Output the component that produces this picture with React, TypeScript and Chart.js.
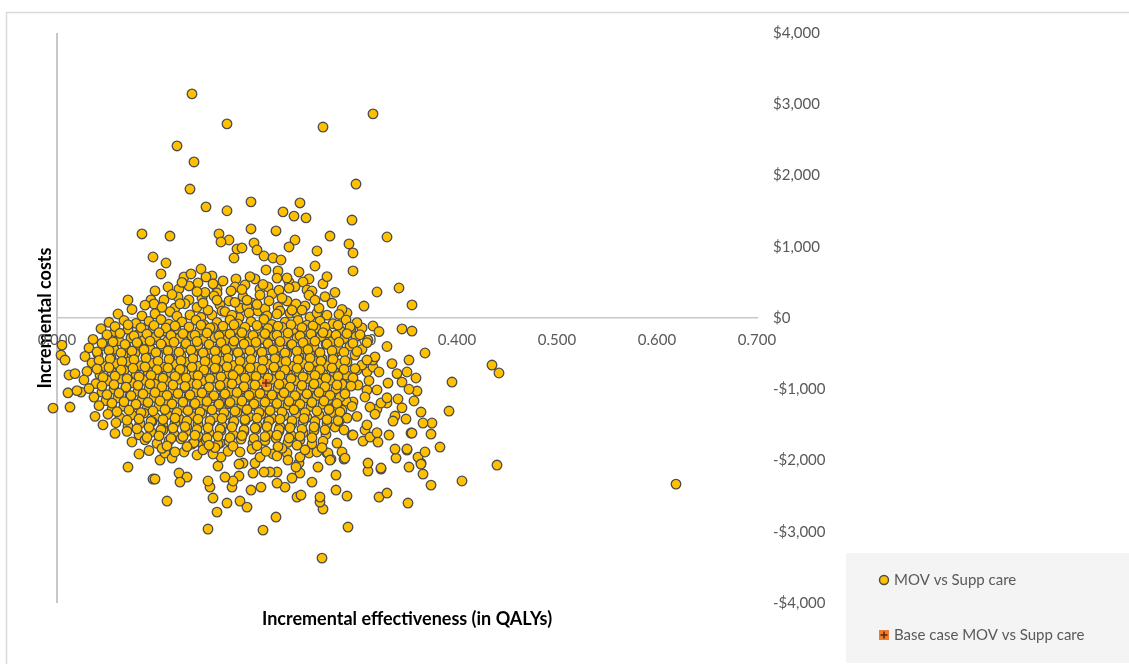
import { useEffect, useRef } from 'react';
import { Chart, registerables } from 'chart.js';

Chart.register(...registerables);

const seriesNames = ['MOV vs Supp care', 'Base case MOV vs Supp care'];
const xAxisTitle = 'Incremental effectiveness (in QALYs)';
const yAxisTitle = 'Incremental costs';
const xTickValues = [0, 0.1, 0.2, 0.3, 0.4, 0.5, 0.6, 0.7];
const yTickValues = [-4000, -3000, -2000, -1000, 0, 1000, 2000, 3000, 4000];

// Base case point (QALYs, $)
const baseCase: [number, number][] = [[0.209, -912]];

// PSA iterations: scattered points above the axis
const psaUpper: [number, number][] = [
  [0.135, 3145], [0.170, 2725], [0.266, 2680], [0.316, 2865], [0.120, 2415], [0.137, 2190],
  [0.299, 1880], [0.133, 1810], [0.194, 1630], [0.243, 1615], [0.149, 1560], [0.170, 1505],
  [0.226, 1490], [0.237, 1430], [0.249, 1405], [0.295, 1375], [0.085, 1180], [0.113, 1150],
  [0.162, 1180], [0.172, 1095], [0.194, 1250], [0.219, 1222], [0.273, 1150], [0.164, 1067],
  [0.330, 1137], [0.238, 1095], [0.232, 997], [0.197, 1053], [0.200, 955], [0.180, 969],
  [0.185, 983], [0.177, 842], [0.207, 870], [0.216, 842], [0.224, 814], [0.260, 941],
  [0.292, 1039], [0.296, 913], [0.296, 660], [0.258, 730], [0.242, 646], [0.221, 660],
  [0.209, 674], [0.096, 856], [0.109, 772], [0.104, 618], [0.127, 576], [0.134, 618],
  [0.144, 688], [0.155, 590], [0.149, 576], [0.141, 491], [0.198, 548], [0.188, 463],
  [0.179, 548], [0.178, 435], [0.111, 435], [0.122, 407], [0.160, 407], [0.160, 351],
  [0.203, 407], [0.211, 435], [0.232, 505], [0.230, 562], [0.252, 548], [0.246, 505],
  [0.250, 393], [0.255, 379], [0.320, 365], [0.342, 421], [0.355, 183], [0.307, 168],
  [0.290, 70], [0.071, 253], [0.094, 253], [0.097, 197], [0.107, 253], [0.118, 140],
  [0.121, 295], [0.132, 253], [0.145, 281], [0.157, 309], [0.172, 239], [0.183, 140],
  [0.195, 211], [0.203, 323], [0.215, 337], [0.221, 154], [0.230, 239], [0.239, 197],
  [0.223, 98], [0.061, 56], [0.133, 42], [0.144, 10], [0.155, 42], [0.163, 183],
  [0.165, 98], [0.182, 5], [0.201, 98], [0.220, 56], [0.233, 70], [0.240, 56],
  [0.253, 14], [0.260, 70], [0.075, 120], [0.088, 180], [0.113, 90], [0.128, 200],
  [0.140, 150], [0.151, 110], [0.168, 90], [0.178, 220], [0.190, 160], [0.208, 130],
  [0.212, 240], [0.235, 110], [0.248, 170], [0.262, 140], [0.275, 210], [0.285, 120],
  [0.098, 380], [0.115, 330], [0.132, 450], [0.148, 360], [0.166, 520], [0.174, 380],
  [0.186, 300], [0.193, 580], [0.206, 470], [0.222, 390], [0.238, 440], [0.252, 320],
  [0.266, 480], [0.278, 360],
  [0.085, 30], [0.098, 60], [0.120, 25], [0.175, 40], [0.192, 70], [0.210, 30],
  [0.245, 110], [0.270, 40], [0.282, 50], [0.105, 150], [0.123, 200], [0.146, 210],
  [0.160, 250], [0.190, 250], [0.200, 190], [0.225, 280], [0.258, 250], [0.268, 300],
  [0.140, 370], [0.185, 400], [0.232, 420], [0.270, 580], [0.220, 560], [0.156, 480],
  [0.125, 500],
];

// PSA iterations: scattered points on the lower / right / left edge of the cloud
const psaOuter: [number, number][] = [
  [0.071, -2092], [0.082, -1909], [0.096, -2260], [0.098, -2260], [0.110, -2569], [0.122, -2176],
  [0.130, -2232], [0.123, -2303], [0.103, -1994], [0.108, -1895], [0.115, -1966], [0.151, -2962],
  [0.160, -2724], [0.156, -2527], [0.170, -2597], [0.183, -2569], [0.190, -2654], [0.206, -2977],
  [0.219, -2794], [0.240, -2513], [0.244, -2485], [0.265, -3370], [0.291, -2934], [0.290, -2499],
  [0.279, -2415], [0.279, -2204], [0.266, -2682], [0.263, -2583], [0.263, -2513], [0.322, -2513],
  [0.330, -2457], [0.351, -2597], [0.374, -2345], [0.366, -2190], [0.352, -2092], [0.324, -2120],
  [0.311, -2148], [0.311, -2036], [0.339, -1966], [0.350, -1853], [0.364, -2036], [0.361, -1952],
  [0.368, -1881], [0.383, -1811], [0.374, -1629], [0.354, -1615], [0.332, -1643], [0.321, -1741],
  [0.306, -1727], [0.295, -1643], [0.287, -1980], [0.285, -1881], [0.274, -1980], [0.280, -1755],
  [0.270, -1895], [0.261, -2092], [0.255, -2303], [0.243, -2176], [0.242, -2036], [0.235, -2246],
  [0.228, -2373], [0.220, -2317], [0.220, -2162], [0.213, -2162], [0.207, -2162], [0.196, -2176],
  [0.194, -2415], [0.204, -2373], [0.182, -2218], [0.175, -2373], [0.176, -2288], [0.168, -2232],
  [0.153, -2373], [0.151, -2288], [0.161, -2078], [0.164, -1952], [0.156, -1909], [0.140, -1923],
  [0.127, -1881], [0.135, -1769], [0.146, -1783], [0.163, -1755], [0.183, -1881], [0.186, -2036],
  [0.182, -2050], [0.198, -2036], [0.203, -1952], [0.216, -1909], [0.220, -1937], [0.230, -1895],
  [0.231, -1994], [0.239, -2092], [0.243, -1952], [0.252, -1895], [0.260, -1881],
  [0.305, -140], [0.316, -112], [0.345, -154], [0.355, -183], [0.368, -491], [0.352, -590],
  [0.435, -660], [0.442, -772], [0.395, -899], [0.331, -913], [0.341, -1137], [0.357, -1165],
  [0.350, -758], [0.359, -842], [0.360, -1025], [0.392, -1306], [0.364, -1320], [0.338, -1376],
  [0.336, -1446], [0.349, -1418], [0.375, -1474], [0.366, -1474], [0.355, -1615], [0.364, -2050],
  [0.350, -1839], [0.338, -1839], [0.405, -2288], [0.440, -2064], [0.619, -2331], [0.324, -2106],
  [0.330, -1193], [0.320, -1278], [0.324, -1193], [0.313, -1250], [0.308, -1572], [0.313, -1671],
  [0.296, -1643], [0.310, -758], [0.316, -688], [0.316, -590], [0.322, -758], [0.300, -730],
  [0.290, -618], [0.281, -730], [0.278, -491], [0.293, -842], [0.301, -941], [0.310, -1011],
  [0.308, -1109], [0.296, -1179], [0.289, -1165], [0.285, -1292], [0.290, -1404], [0.278, -1530],
  [0.287, -1572], [0.271, -1895], [0.288, -1966], [0.273, -1994],
  [0.005, -380], [0.004, -520], [0.008, -590], [0.012, -800], [0.011, -1050], [0.013, -1250],
  [-0.004, -1265], [0.024, -1040],
];

// PSA iterations: dense core of the cloud (first layer)
const psaCore: [number, number][] = [
  [0.052, -60], [0.067, -35], [0.079, -75], [0.092, -48], [0.104, -22], [0.112, -88], [0.125, -55],
  [0.139, -30], [0.147, -95], [0.160, -62], [0.173, -28], [0.181, -84], [0.194, -50], [0.207, -20],
  [0.215, -90], [0.228, -58], [0.241, -35], [0.250, -100], [0.263, -45], [0.276, -80], [0.289, -28],
  [0.300, -66],
  [0.044, -150], [0.058, -190], [0.071, -160], [0.083, -205], [0.096, -140], [0.108, -185],
  [0.119, -155], [0.131, -210], [0.143, -170], [0.156, -135], [0.166, -200], [0.178, -160],
  [0.190, -215], [0.201, -145], [0.213, -180], [0.225, -130], [0.236, -200], [0.248, -165],
  [0.259, -140], [0.270, -210], [0.283, -175], [0.294, -150], [0.322, -190],
  [0.036, -300], [0.050, -270], [0.062, -320], [0.074, -280], [0.087, -310], [0.099, -260],
  [0.110, -330], [0.122, -285], [0.135, -250], [0.146, -315], [0.158, -275], [0.170, -305],
  [0.183, -265], [0.192, -330], [0.205, -290], [0.217, -250], [0.229, -320], [0.240, -280],
  [0.252, -300], [0.264, -260], [0.275, -330], [0.287, -290], [0.299, -260], [0.311, -310],
  [0.032, -420], [0.046, -385], [0.057, -440], [0.069, -400], [0.081, -375], [0.093, -430],
  [0.105, -395], [0.116, -450], [0.128, -410], [0.141, -380], [0.152, -440], [0.163, -400],
  [0.176, -370], [0.188, -430], [0.199, -395], [0.211, -445], [0.222, -410], [0.234, -380],
  [0.246, -435], [0.257, -400], [0.269, -370], [0.281, -425], [0.293, -395], [0.305, -440],
  [0.330, -400],
  [0.028, -540], [0.041, -510], [0.054, -560], [0.066, -520], [0.078, -495], [0.089, -550],
  [0.101, -515], [0.113, -570], [0.124, -530], [0.136, -500], [0.148, -555], [0.160, -520],
  [0.171, -490], [0.183, -545], [0.195, -510], [0.206, -565], [0.218, -530], [0.230, -500],
  [0.242, -550], [0.253, -515], [0.265, -570], [0.276, -535], [0.298, -520], [0.318, -545],
  [0.035, -630], [0.048, -680], [0.060, -640], [0.072, -615], [0.084, -670],
  [0.096, -635], [0.107, -690], [0.119, -650], [0.131, -620], [0.142, -675], [0.154, -640],
  [0.166, -605], [0.177, -665], [0.189, -630], [0.200, -690], [0.212, -650], [0.224, -620],
  [0.236, -675], [0.247, -640], [0.259, -610], [0.270, -670], [0.282, -645], [0.305, -660],
  [0.335, -640],
  [0.018, -780], [0.030, -750], [0.043, -800], [0.055, -760], [0.067, -735], [0.079, -790],
  [0.091, -755], [0.102, -810], [0.114, -770], [0.126, -740], [0.137, -795], [0.149, -760],
  [0.161, -725], [0.172, -785], [0.184, -750], [0.195, -805], [0.207, -770], [0.219, -740],
  [0.231, -795], [0.242, -760], [0.254, -730], [0.266, -790], [0.277, -755], [0.289, -800],
  [0.340, -780],
  [0.027, -870], [0.039, -920], [0.051, -880], [0.063, -855], [0.075, -910],
  [0.087, -875], [0.098, -930], [0.110, -890], [0.122, -860], [0.133, -915], [0.145, -880],
  [0.157, -845], [0.168, -905], [0.180, -870], [0.191, -925], [0.203, -890], [0.215, -860],
  [0.226, -915], [0.238, -880], [0.250, -850], [0.261, -910], [0.273, -875], [0.285, -930],
  [0.312, -880], [0.345, -900],
  [0.020, -1020], [0.032, -990], [0.045, -1040], [0.057, -1000], [0.069, -975], [0.081, -1030],
  [0.092, -995], [0.104, -1050], [0.116, -1010], [0.128, -980], [0.139, -1035], [0.151, -1000],
  [0.163, -965], [0.174, -1025], [0.186, -990], [0.197, -1045], [0.209, -1010], [0.221, -980],
  [0.232, -1035], [0.244, -1000], [0.256, -970], [0.267, -1030], [0.279, -995], [0.320, -1010],
  [0.352, -1000],
  [0.037, -1110], [0.049, -1160], [0.061, -1120], [0.073, -1095], [0.085, -1150],
  [0.097, -1115], [0.108, -1170], [0.120, -1130], [0.132, -1100], [0.143, -1155], [0.155, -1120],
  [0.167, -1085], [0.178, -1145], [0.190, -1110], [0.201, -1165], [0.213, -1130], [0.225, -1100],
  [0.236, -1155], [0.248, -1120], [0.260, -1090], [0.271, -1150], [0.283, -1115], [0.330, -1120],
  [0.042, -1230], [0.055, -1280], [0.067, -1240], [0.079, -1215], [0.090, -1270],
  [0.102, -1235], [0.114, -1290], [0.126, -1250], [0.137, -1220], [0.149, -1275], [0.161, -1240],
  [0.172, -1205], [0.184, -1265], [0.196, -1230], [0.207, -1285], [0.219, -1250], [0.231, -1220],
  [0.242, -1275], [0.254, -1240], [0.266, -1210], [0.277, -1270], [0.295, -1240], [0.345, -1260],
  [0.038, -1380], [0.051, -1350], [0.063, -1400], [0.075, -1360], [0.087, -1335], [0.098, -1390],
  [0.110, -1355], [0.122, -1410], [0.134, -1370], [0.145, -1340], [0.157, -1395], [0.169, -1360],
  [0.180, -1325], [0.192, -1385], [0.204, -1350], [0.215, -1405], [0.227, -1370], [0.239, -1340],
  [0.250, -1395], [0.262, -1360], [0.274, -1330], [0.300, -1380], [0.318, -1350],
  [0.046, -1500], [0.059, -1470], [0.071, -1520], [0.083, -1480], [0.095, -1455], [0.106, -1510],
  [0.118, -1475], [0.130, -1530], [0.141, -1490], [0.153, -1460], [0.165, -1515], [0.176, -1480],
  [0.188, -1445], [0.200, -1505], [0.211, -1470], [0.223, -1525], [0.235, -1490], [0.246, -1460],
  [0.258, -1515], [0.270, -1480], [0.282, -1450], [0.310, -1500],
  [0.058, -1620], [0.070, -1590], [0.082, -1640], [0.094, -1600], [0.106, -1575], [0.117, -1630],
  [0.129, -1595], [0.141, -1650], [0.152, -1610], [0.164, -1580], [0.176, -1635], [0.187, -1600],
  [0.199, -1565], [0.211, -1625], [0.222, -1590], [0.234, -1645], [0.246, -1610], [0.257, -1580],
  [0.269, -1635], [0.320, -1610],
  [0.075, -1740], [0.088, -1710], [0.100, -1760], [0.112, -1720], [0.124, -1695], [0.137, -1750],
  [0.149, -1715], [0.161, -1770], [0.172, -1730], [0.184, -1700], [0.196, -1755], [0.208, -1720],
  [0.219, -1685], [0.231, -1745], [0.243, -1710], [0.255, -1765], [0.266, -1730],
  [0.092, -1860], [0.105, -1830], [0.118, -1880], [0.146, -1850], [0.158, -1820], [0.171, -1870],
  [0.195, -1840], [0.209, -1870], [0.225, -1830], [0.248, -1850], [0.265, -1820],
];

// PSA iterations: dense core of the cloud (second, interleaved layer)
const psaCoreFill: [number, number][] = [
  [0.058, -120], [0.071, -95], [0.084, -135], [0.097, -105], [0.109, -140], [0.118, -110],
  [0.132, -125], [0.144, -100], [0.153, -140], [0.166, -115], [0.177, -95], [0.188, -130],
  [0.200, -105], [0.211, -145], [0.221, -115], [0.234, -95], [0.245, -135], [0.256, -110],
  [0.268, -130], [0.281, -100], [0.293, -125],
  [0.050, -235], [0.063, -215], [0.077, -250], [0.090, -225], [0.102, -205], [0.114, -245],
  [0.126, -220], [0.138, -240], [0.150, -210], [0.162, -250], [0.173, -225], [0.185, -205],
  [0.196, -245], [0.208, -220], [0.220, -240], [0.231, -210], [0.243, -250], [0.254, -225],
  [0.266, -205], [0.279, -240], [0.290, -220], [0.303, -235],
  [0.045, -355], [0.056, -335], [0.068, -370], [0.080, -345], [0.093, -325], [0.104, -365],
  [0.117, -340], [0.129, -360], [0.140, -330], [0.152, -370], [0.164, -345], [0.177, -325],
  [0.187, -365], [0.199, -340], [0.211, -360], [0.223, -330], [0.235, -370], [0.246, -345],
  [0.258, -325], [0.270, -365], [0.282, -340], [0.296, -355], [0.310, -345],
  [0.040, -475], [0.052, -455], [0.064, -490], [0.075, -465], [0.087, -445], [0.099, -485],
  [0.111, -460], [0.122, -480], [0.134, -450], [0.146, -490], [0.158, -465], [0.169, -445],
  [0.181, -485], [0.193, -460], [0.205, -480], [0.216, -450], [0.228, -490], [0.240, -465],
  [0.251, -445], [0.263, -485], [0.275, -460], [0.287, -480], [0.300, -470],
  [0.042, -595], [0.053, -575], [0.065, -610], [0.077, -585], [0.089, -565], [0.101, -605],
  [0.112, -580], [0.124, -600], [0.136, -570], [0.148, -610], [0.159, -585], [0.171, -565],
  [0.183, -605], [0.194, -580], [0.206, -600], [0.218, -570], [0.229, -610], [0.241, -585],
  [0.253, -565], [0.264, -605], [0.276, -580], [0.288, -600], [0.310, -590],
  [0.040, -715], [0.052, -695], [0.064, -730], [0.076, -705], [0.088, -685], [0.100, -725],
  [0.111, -700], [0.123, -720], [0.135, -690], [0.147, -730], [0.158, -705], [0.170, -685],
  [0.182, -725], [0.193, -700], [0.205, -720], [0.217, -690], [0.228, -730], [0.240, -705],
  [0.252, -685], [0.263, -725], [0.275, -700], [0.287, -720], [0.298, -710],
  [0.046, -835], [0.058, -815], [0.070, -850], [0.082, -825], [0.094, -805], [0.106, -845],
  [0.118, -820], [0.129, -840], [0.141, -810], [0.153, -850], [0.164, -825], [0.176, -805],
  [0.188, -845], [0.199, -820], [0.211, -840], [0.223, -810], [0.234, -850], [0.246, -825],
  [0.258, -805], [0.269, -845], [0.281, -820], [0.296, -840],
  [0.045, -955], [0.057, -935], [0.069, -970], [0.081, -945], [0.093, -925], [0.105, -965],
  [0.116, -940], [0.128, -960], [0.140, -930], [0.152, -970], [0.163, -945], [0.175, -925],
  [0.187, -965], [0.198, -940], [0.210, -960], [0.222, -930], [0.233, -970], [0.245, -945],
  [0.257, -925], [0.268, -965], [0.280, -940], [0.294, -955],
  [0.050, -1075], [0.062, -1055], [0.074, -1090], [0.086, -1065], [0.098, -1045], [0.110, -1085],
  [0.121, -1060], [0.133, -1080], [0.145, -1050], [0.157, -1090], [0.168, -1065], [0.180, -1045],
  [0.192, -1085], [0.203, -1060], [0.215, -1080], [0.227, -1050], [0.238, -1090], [0.250, -1065],
  [0.262, -1045], [0.273, -1085], [0.288, -1065],
  [0.055, -1195], [0.067, -1175], [0.079, -1210], [0.091, -1185], [0.103, -1165], [0.115, -1205],
  [0.126, -1180], [0.138, -1200], [0.150, -1170], [0.162, -1210], [0.173, -1185], [0.185, -1165],
  [0.197, -1205], [0.208, -1180], [0.220, -1200], [0.232, -1170], [0.243, -1210], [0.255, -1185],
  [0.267, -1165], [0.280, -1200],
  [0.060, -1315], [0.072, -1295], [0.084, -1330], [0.096, -1305], [0.108, -1285], [0.120, -1325],
  [0.131, -1300], [0.143, -1320], [0.155, -1290], [0.167, -1330], [0.178, -1305], [0.190, -1285],
  [0.202, -1325], [0.213, -1300], [0.225, -1320], [0.237, -1290], [0.248, -1330], [0.260, -1305],
  [0.272, -1285], [0.283, -1320],
  [0.070, -1435], [0.082, -1415], [0.094, -1450], [0.106, -1425], [0.118, -1405], [0.130, -1445],
  [0.141, -1420], [0.153, -1440], [0.165, -1410], [0.177, -1450], [0.188, -1425], [0.200, -1405],
  [0.212, -1445], [0.223, -1420], [0.235, -1440], [0.247, -1410], [0.258, -1450], [0.270, -1425],
  [0.281, -1440],
  [0.080, -1555], [0.092, -1535], [0.104, -1570], [0.116, -1545], [0.128, -1525], [0.140, -1565],
  [0.151, -1540], [0.163, -1560], [0.175, -1530], [0.187, -1570], [0.198, -1545], [0.210, -1525],
  [0.222, -1565], [0.233, -1540], [0.245, -1560], [0.257, -1530], [0.268, -1570],
  [0.090, -1675], [0.102, -1655], [0.114, -1690], [0.126, -1665], [0.138, -1645], [0.150, -1685],
  [0.161, -1660], [0.173, -1680], [0.185, -1650], [0.197, -1690], [0.208, -1665], [0.220, -1645],
  [0.232, -1685], [0.243, -1660], [0.255, -1680],
  [0.110, -1795], [0.130, -1805], [0.152, -1785], [0.176, -1800], [0.200, -1790], [0.221, -1805],
  [0.240, -1785],
];

const FONT = 'Lato, "Open Sans", "DejaVu Sans", sans-serif';

const fmtMoney = (v: number) => (v < 0 ? '-' : '') + '$' + Math.abs(v).toLocaleString('en-US');

const decorPlugin = {
  id: 'decor',
  beforeDraw(chart: any) {
    const ctx = chart.ctx as CanvasRenderingContext2D;
    ctx.save();
    ctx.fillStyle = '#ffffff';
    ctx.fillRect(0, 0, chart.width, chart.height);
    ctx.strokeStyle = '#d9d9d9';
    ctx.lineWidth = 1.5;
    ctx.strokeRect(6.5, 12.5, chart.width + 20, chart.height + 20);
    ctx.restore();
  },
  afterDraw(chart: any) {
    const ctx = chart.ctx as CanvasRenderingContext2D;
    ctx.save();
    ctx.fillStyle = '#f4f4f4';
    ctx.fillRect(846, 553, 290, 110);
    ctx.beginPath();
    ctx.arc(884, 580, 4.5, 0, Math.PI * 2);
    ctx.fillStyle = '#FFC000';
    ctx.fill();
    ctx.lineWidth = 1.4;
    ctx.strokeStyle = '#4a4a4a';
    ctx.stroke();
    ctx.fillStyle = '#ED7D31';
    ctx.fillRect(879, 630, 10, 10);
    ctx.strokeStyle = '#5a2a0a';
    ctx.lineWidth = 1.5;
    ctx.beginPath();
    ctx.moveTo(884, 631.5);
    ctx.lineTo(884, 638.5);
    ctx.moveTo(880.5, 635);
    ctx.lineTo(887.5, 635);
    ctx.stroke();
    ctx.fillStyle = '#595959';
    ctx.font = '15px ' + FONT;
    ctx.textBaseline = 'middle';
    ctx.textAlign = 'left';
    ctx.fillText(seriesNames[0], 894, 580);
    ctx.fillText(seriesNames[1], 894, 635);
    ctx.restore();
  },
};

export default function App() {
  const canvasRef = useRef<HTMLCanvasElement>(null);

  useEffect(() => {
    document.body.style.margin = '0';
    const cloud = [...psaUpper, ...psaOuter, ...psaCore, ...psaCoreFill].map(([x, y]) => ({ x, y }));
    const base = baseCase.map(([x, y]) => ({ x, y }));
    const chart = new Chart(canvasRef.current as HTMLCanvasElement, {
      type: 'scatter',
      data: {
        datasets: [
          {
            label: seriesNames[1],
            data: base,
            pointStyle: 'cross',
            pointRadius: 4,
            borderColor: '#6b300c',
            backgroundColor: '#6b300c',
            borderWidth: 1.5,
            order: -1,
            clip: false,
          },
          {
            label: seriesNames[1] + ' box',
            data: base,
            pointStyle: 'rect',
            pointRadius: 5,
            backgroundColor: '#ED7D31',
            borderColor: '#ED7D31',
            borderWidth: 1,
            order: 0,
            clip: false,
          },
          {
            label: seriesNames[0],
            data: cloud,
            pointStyle: 'circle',
            pointRadius: 4.8,
            backgroundColor: '#FFC000',
            borderColor: '#4c4c4c',
            borderWidth: 1.3,
            order: 1,
            clip: false,
          },
        ] as any,
      },
      options: {
        animation: false,
        responsive: true,
        maintainAspectRatio: false,
        layout: { padding: { top: 33, right: 302, bottom: 0, left: 0 } },
        plugins: { legend: { display: false }, tooltip: { enabled: false } },
        scales: {
          x: {
            type: 'linear',
            position: { y: 0 } as any,
            min: 0,
            max: 0.7,
            afterFit: (s: any) => { s.height = 0; },
            afterBuildTicks: (s: any) => { s.ticks = xTickValues.map((v) => ({ value: v })); },
            ticks: {
              callback: (v: any) => Number(v).toFixed(3),
              padding: 13,
              color: '#595959',
              font: { family: FONT, size: 15 },
              maxRotation: 0,
              autoSkip: false,
            },
            grid: {
              drawTicks: false,
              tickLength: 0,
              color: (c: any) => (c.tick && c.tick.value === 0 ? '#c8c8c8' : 'rgba(0,0,0,0)'),
              lineWidth: (c: any) => (c.tick && c.tick.value === 0 ? 2 : 0),
            },
            border: { display: true, color: '#c8c8c8', width: 1.5 },
          },
          y: {
            type: 'linear',
            position: 'right',
            min: -4000,
            max: 4000,
            afterFit: (s: any) => { s.width = 70; },
            afterBuildTicks: (s: any) => { s.ticks = yTickValues.map((v) => ({ value: v })); },
            ticks: {
              callback: (v: any) => fmtMoney(Number(v)),
              padding: 16,
              color: '#595959',
              font: { family: FONT, size: 15 },
              autoSkip: false,
            },
            grid: { display: false, drawTicks: false, tickLength: 0 },
            border: { display: false },
          },
          yTitleAxis: {
            type: 'linear',
            axis: 'y',
            position: 'left',
            afterFit: (s: any) => { s.width = 57; },
            ticks: { display: false },
            grid: { display: false, drawTicks: false },
            border: { display: false },
            title: {
              display: true,
              text: yAxisTitle,
              color: '#000000',
              font: { family: FONT, size: 18, weight: 'bold' },
              padding: { top: 34, bottom: 0 },
            },
          },
          xTitleAxis: {
            type: 'linear',
            axis: 'x',
            position: 'bottom',
            afterFit: (s: any) => { s.height = 61; },
            ticks: { display: false },
            grid: { display: false, drawTicks: false },
            border: { display: false },
            title: {
              display: true,
              text: xAxisTitle,
              color: '#000000',
              font: { family: FONT, size: 18, weight: 'bold' },
              padding: { top: 0, bottom: 34 },
            },
          },
        } as any,
      },
      plugins: [decorPlugin],
    });
    return () => chart.destroy();
  }, []);

  return (
    <div style={{ position: 'absolute', left: 0, top: 0, width: 1129, height: 664 }}>
      <canvas ref={canvasRef} />
    </div>
  );
}
